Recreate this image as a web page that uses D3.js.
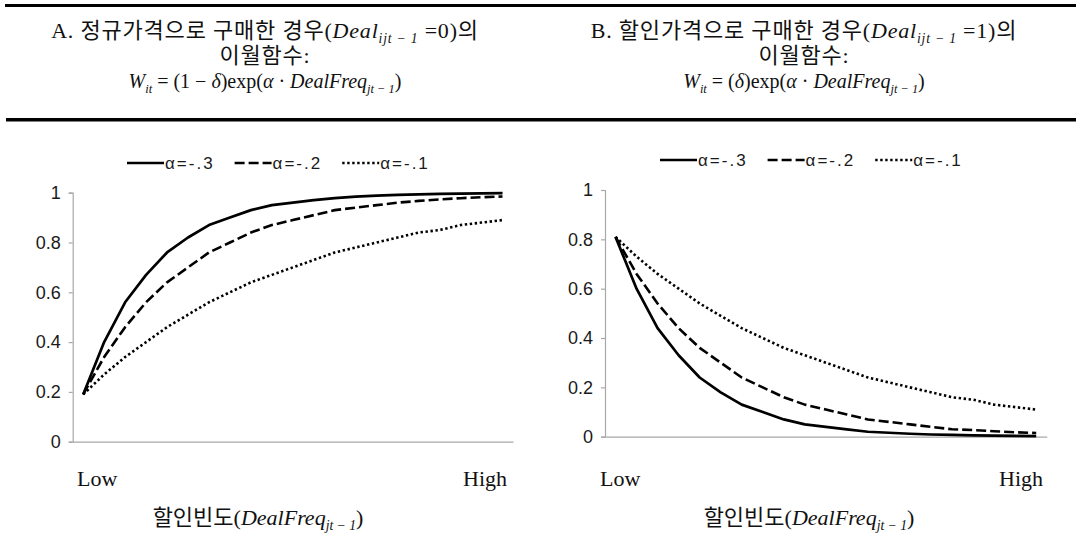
<!DOCTYPE html>
<html><head><meta charset="utf-8">
<script src="https://cdn.jsdelivr.net/npm/d3@7"></script>
<style>
body{margin:0;background:#fff;}
svg{display:block;}
</style></head>
<body>
<svg id="c" width="1076" height="543"></svg>
<script>
// ---- data ----
const freqIndex = [0,1,2,3,4,5,6,7,8,9,10,11,12,13,14,15,16,17,18,19,20];
const seriesNames = ["α=-.3","α=-.2","α=-.1"];
const panelA_a3 = [0.19,0.40,0.56,0.67,0.76,0.82,0.87,0.90,0.93,0.95,0.96,0.97,0.978,0.984,0.988,0.991,0.993,0.995,0.996,0.997,0.998];
const panelA_a2 = [0.19,0.34,0.46,0.56,0.64,0.70,0.76,0.80,0.84,0.87,0.89,0.91,0.93,0.94,0.95,0.96,0.967,0.973,0.978,0.982,0.985];
const panelA_a1 = [0.19,0.27,0.34,0.40,0.46,0.51,0.56,0.60,0.64,0.67,0.70,0.73,0.76,0.78,0.80,0.82,0.84,0.85,0.87,0.88,0.89];
const panelB_a3 = [0.81,0.60,0.44,0.33,0.24,0.18,0.13,0.10,0.07,0.05,0.04,0.03,0.02,0.016,0.012,0.009,0.007,0.005,0.004,0.003,0.002];
const panelB_a2 = [0.81,0.66,0.54,0.44,0.36,0.30,0.24,0.20,0.16,0.13,0.11,0.09,0.07,0.06,0.05,0.04,0.03,0.027,0.022,0.018,0.015];
const panelB_a1 = [0.81,0.73,0.66,0.60,0.54,0.49,0.44,0.40,0.36,0.33,0.30,0.27,0.24,0.22,0.20,0.18,0.16,0.15,0.13,0.12,0.11];
const yTicks = [0,0.2,0.4,0.6,0.8,1];
const yTickLabels = ["0","0.2","0.4","0.6","0.8","1"];
const xEndLabels = ["Low","High"];

// ---- drawing ----
const svg = d3.select("#c");
const serif = "'Liberation Serif','Noto Sans CJK KR',serif";
const sans = "'Liberation Sans','Noto Sans CJK KR',sans-serif";
const styles = [
  {w:2.7, dash:null},
  {w:2.6, dash:"10,4"},
  {w:2.6, dash:"2.4,2.6"}
];

// header rules
svg.append("rect").attr("x",5).attr("y",4).attr("width",1071).attr("height",3).attr("fill","#000");
svg.append("rect").attr("x",6).attr("y",118).attr("width",1070).attr("height",3.5).attr("fill","#000");

function mathLine(g, x, y, parts, size, ls){
  const t = g.append("text").attr("x",x).attr("y",y).attr("text-anchor","middle")
    .attr("font-family",serif).attr("font-size",size).attr("fill","#111");
  if(ls) t.attr("letter-spacing", ls);
  let shifted = 0;
  parts.forEach(p=>{
    const s = t.append("tspan").text(p.t);
    if(p.i) s.attr("font-style","italic");
    if(p.sub){
      s.attr("font-size",size*0.62).attr("dy", 5 - shifted); shifted = 5;
    } else if(shifted){
      s.attr("dy", -shifted); shifted = 0;
    }
  });
  return t;
}

function header(cx, letter, word, val, delta){
  const g = svg.append("g");
  mathLine(g, cx, 38, [
    {t: letter + ". " + word + "으로 구매한 경우("},
    {t:"Deal", i:true},
    {t:"ijt − 1", i:true, sub:true},
    {t:" =" + val + ")의"}
  ], 22, 0.8);
  mathLine(g, cx, 63, [{t:"이월함수:"}], 22, 0.8);
  mathLine(g, cx, 88, [
    {t:"W", i:true},
    {t:"it", i:true, sub:true},
    {t:" = (" + (delta ? "" : "1 − ")},
    {t:"δ", i:true},
    {t:")exp("},
    {t:"α", i:true},
    {t:" · "},
    {t:"DealFreq", i:true},
    {t:"jt − 1", i:true, sub:true},
    {t:")"}
  ], 20);
}
header(265, "A", "정규가격", "0", false);
header(804, "B", "할인가격", "1", true);

function panel(cfg){
  const g = svg.append("g");
  const x = d3.scaleLinear().domain([-0.5, freqIndex.length - 0.5]).range([cfg.x0, cfg.x1]);
  const y = d3.scaleLinear().domain([0,1]).range([cfg.y0, cfg.y1]);

  // y axis
  const ya = d3.axisLeft(y).tickValues(yTicks).tickFormat((d,i)=>yTickLabels[i]).tickSize(4).tickPadding(8);
  const yg = g.append("g").attr("transform",`translate(${cfg.x0},0)`).call(ya);
  yg.select(".domain").attr("stroke","#a8a8a8").attr("stroke-width",1.2);
  yg.selectAll(".tick line").attr("stroke","#a8a8a8").attr("stroke-width",1.2);
  yg.selectAll(".tick text").attr("font-family",sans).attr("font-size",18).attr("fill","#1a1a1a");

  // x axis (no tick labels)
  const xa = d3.axisBottom(x).tickValues([]).tickSizeOuter(0);
  const xg = g.append("g").attr("transform",`translate(0,${cfg.y0})`).call(xa);
  xg.select(".domain").attr("stroke","#a8a8a8").attr("stroke-width",1.2);

  // lines
  const line = d3.line().x((d,i)=>x(freqIndex[i])).y(d=>y(d));
  cfg.series.forEach((s,k)=>{
    const p = g.append("path").datum(s).attr("d",line).attr("fill","none")
      .attr("stroke","#000").attr("stroke-width",styles[k].w).attr("stroke-linejoin","round");
    if(styles[k].dash) p.attr("stroke-dasharray",styles[k].dash);
  });

  // legend
  const lg = g.append("g").attr("transform",`translate(${cfg.legX},${cfg.legY})`);
  let cx = 0;
  seriesNames.forEach((n,k)=>{
    const l = lg.append("line").attr("x1",cx).attr("x2",cx+37).attr("y1",0).attr("y2",0)
      .attr("stroke","#000").attr("stroke-width",styles[k].w);
    if(styles[k].dash) l.attr("stroke-dasharray",styles[k].dash);
    const t = lg.append("text").attr("x",cx+38).attr("y",6).attr("font-family",sans)
      .attr("font-size",17).attr("letter-spacing",2).attr("fill","#1a1a1a").text(n);
    cx += 38 + t.node().getComputedTextLength() + 20;
  });

  // Low / High
  g.append("text").attr("x",cfg.lowX).attr("y",cfg.lhY).attr("font-family",serif).attr("font-size",22)
    .attr("fill","#111").text(xEndLabels[0]);
  g.append("text").attr("x",cfg.highX).attr("y",cfg.lhY).attr("text-anchor","end").attr("font-family",serif)
    .attr("font-size",22).attr("fill","#111").text(xEndLabels[1]);

  // x title
  mathLine(g, cfg.titleX, cfg.titleY, [
    {t:"할인빈도("},
    {t:"DealFreq", i:true},
    {t:"jt − 1", i:true, sub:true},
    {t:")"}
  ], 22);
}

panel({x0:72.7, x1:513, y0:441.7, y1:192.7, series:[panelA_a3,panelA_a2,panelA_a1],
  legX:127, legY:163, lowX:77, highX:507, lhY:486, titleX:258, titleY:525});
panel({x0:605, x1:1046.7, y0:436.7, y1:190, series:[panelB_a3,panelB_a2,panelB_a1],
  legX:660, legY:160, lowX:600, highX:1043, lhY:486, titleX:809, titleY:525});
</script>
</body></html>
